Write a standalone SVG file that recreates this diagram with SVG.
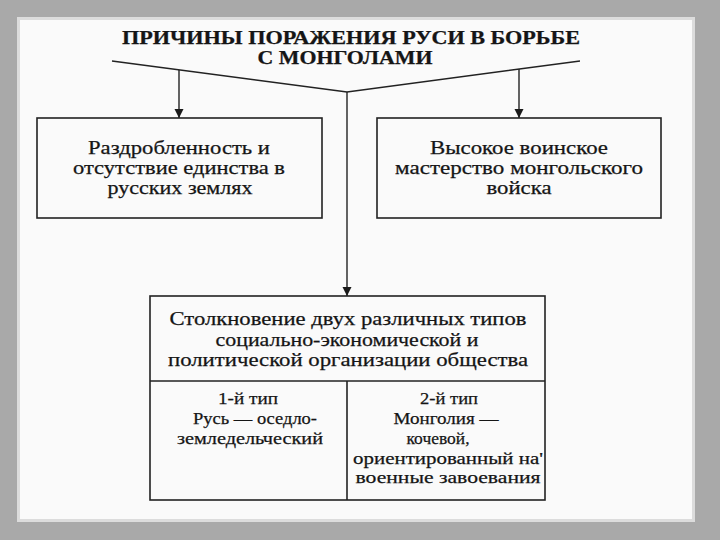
<svg xmlns="http://www.w3.org/2000/svg" width="720" height="540" viewBox="0 0 720 540">
<defs>
<style>
.t{font-family:"Liberation Serif","DejaVu Serif",serif;fill:#151515;text-anchor:middle;stroke:#151515;stroke-width:0.25}
.h{font-size:18px;font-weight:bold}
.b{font-size:19px}
.c{font-size:17px}
.box{fill:none;stroke:#222;stroke-width:1.6}
.ln{fill:none;stroke:#222;stroke-width:1.4}
</style>
<marker id="ah" viewBox="0 0 10 10" refX="10" refY="5" markerWidth="9" markerHeight="10" markerUnits="userSpaceOnUse" orient="auto">
<path d="M0,0 L10,5 L0,10 Z" fill="#1a1a1a"/>
</marker>
</defs>
<rect x="0" y="0" width="720" height="540" fill="#a9a9a9"/>
<rect x="17" y="17" width="678" height="505" fill="#dcdcdc"/>
<rect x="20" y="20" width="672" height="499" fill="#fafafa"/>
<g id="title">
<text class="t h" x="351" y="44" textLength="458" lengthAdjust="spacingAndGlyphs">ПРИЧИНЫ ПОРАЖЕНИЯ РУСИ В БОРЬБЕ</text>
<text class="t h" x="345" y="64" textLength="175" lengthAdjust="spacingAndGlyphs">С МОНГОЛАМИ</text>
</g>
<g id="connectors">
<polyline class="ln" points="112,61 347,92 580,61"/>
<line class="ln" x1="179" y1="70" x2="179" y2="118" marker-end="url(#ah)"/>
<line class="ln" x1="519" y1="69" x2="519" y2="118" marker-end="url(#ah)"/>
<line class="ln" x1="347" y1="92" x2="347" y2="296" marker-end="url(#ah)"/>
</g>
<g id="left">
<rect class="box" x="37" y="118" width="285" height="100"/>
<text class="t b" x="179" y="154" textLength="182" lengthAdjust="spacingAndGlyphs">Раздробленность и</text>
<text class="t b" x="179" y="174" textLength="212" lengthAdjust="spacingAndGlyphs">отсутствие единства в</text>
<text class="t b" x="180" y="194" textLength="145" lengthAdjust="spacingAndGlyphs">русских землях</text>
</g>
<g id="right">
<rect class="box" x="377" y="118" width="284" height="100"/>
<text class="t b" x="519" y="154" textLength="178" lengthAdjust="spacingAndGlyphs">Высокое воинское</text>
<text class="t b" x="519" y="174" textLength="248" lengthAdjust="spacingAndGlyphs">мастерство монгольского</text>
<text class="t b" x="519" y="194" textLength="65" lengthAdjust="spacingAndGlyphs">войска</text>
</g>
<g id="bottom">
<rect class="box" x="150" y="296" width="395" height="204"/>
<line class="box" x1="150" y1="381" x2="545" y2="381"/>
<line class="box" x1="347" y1="381" x2="347" y2="500"/>
<text class="t b" x="348" y="325" textLength="357" lengthAdjust="spacingAndGlyphs">Столкновение двух различных типов</text>
<text class="t b" x="347" y="346" textLength="263" lengthAdjust="spacingAndGlyphs">социально-экономической и</text>
<text class="t b" x="348" y="366" textLength="360" lengthAdjust="spacingAndGlyphs">политической организации общества</text>
</g>
<g id="type1">
<text class="t c" x="248" y="404" textLength="60" lengthAdjust="spacingAndGlyphs">1-й тип</text>
<text class="t c" x="255" y="424" textLength="124" lengthAdjust="spacingAndGlyphs">Русь — оседло-</text>
<text class="t c" x="250" y="444" textLength="146" lengthAdjust="spacingAndGlyphs">земледельческий</text>
</g>
<g id="type2">
<text class="t c" x="449" y="404" textLength="58" lengthAdjust="spacingAndGlyphs">2-й тип</text>
<text class="t c" x="446" y="424" textLength="105" lengthAdjust="spacingAndGlyphs">Монголия —</text>
<text class="t c" x="438" y="444" textLength="63" lengthAdjust="spacingAndGlyphs">кочевой,</text>
<text class="t c" x="448" y="464" textLength="190" lengthAdjust="spacingAndGlyphs">ориентированный на'</text>
<text class="t c" x="448" y="483" textLength="185" lengthAdjust="spacingAndGlyphs">военные завоевания</text>
</g>
</svg>
